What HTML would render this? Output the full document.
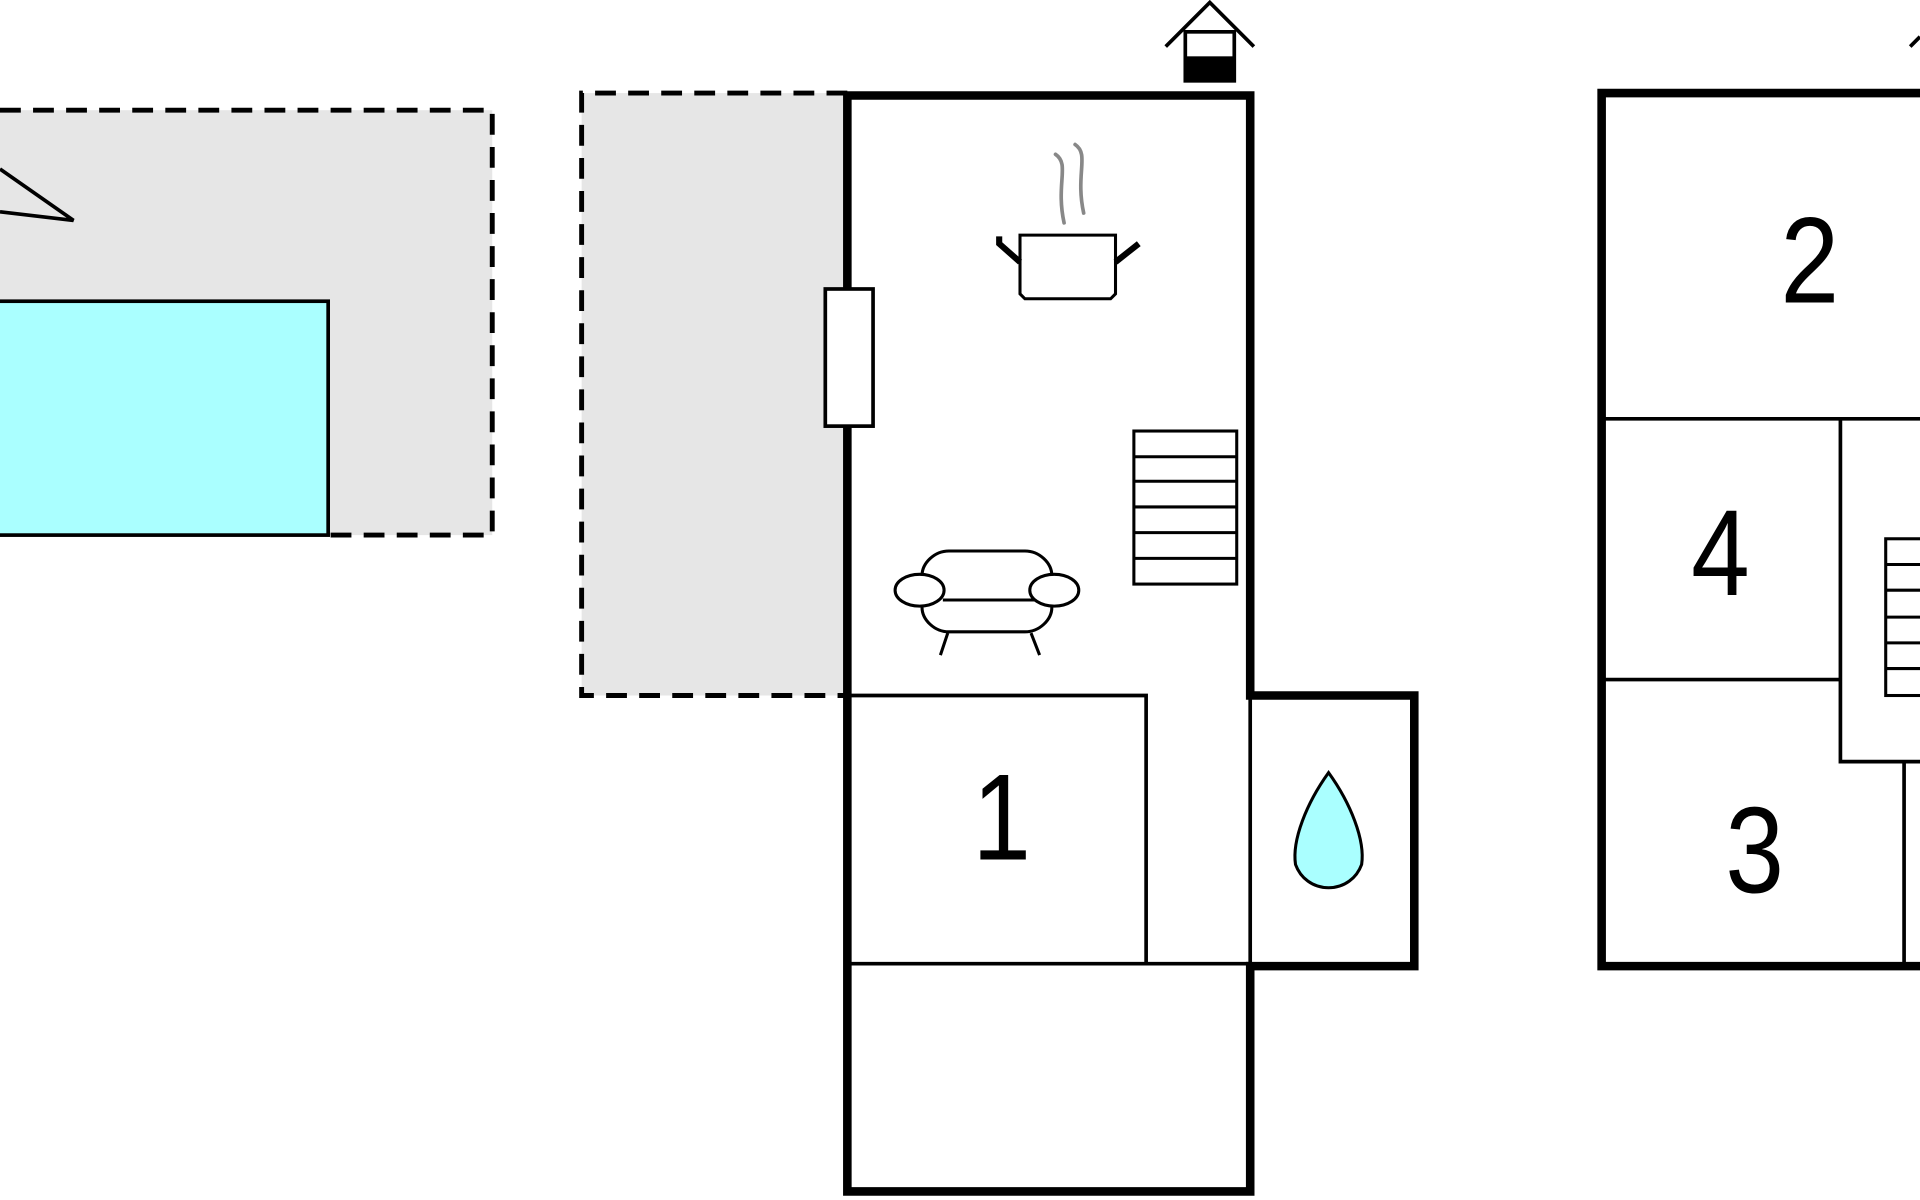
<!DOCTYPE html>
<html><head><meta charset="utf-8"><style>html,body{margin:0;padding:0;background:#fff;width:1920px;height:1200px;overflow:hidden}svg{display:block}</style></head>
<body>
<svg width="1920" height="1200" viewBox="0 0 1568 980" xmlns="http://www.w3.org/2000/svg" font-family="Liberation Sans, Arial, sans-serif">
<rect x="0" y="90" width="402" height="347" fill="#e6e6e6"/>
<path d="M0 90H402V437H268" fill="none" stroke="#000" stroke-width="4" stroke-dasharray="17,10"/>
<rect x="-5" y="246" width="273" height="191" fill="#aaffff" stroke="#000" stroke-width="3"/>
<path d="M0 138L60 180L0 173" fill="none" stroke="#000" stroke-width="3"/>
<rect x="475" y="76" width="217" height="492" fill="#e6e6e6"/>
<path d="M692 76H475V568H692" fill="none" stroke="#000" stroke-width="4" stroke-dasharray="17,10"/>
<path d="M1021 568V789M692 568H936V787M692 787H1021" fill="none" stroke="#000" stroke-width="3"/>
<path d="M692 78H1021V568H1155V789H1021V973H692Z" fill="none" stroke="#000" stroke-width="7"/>
<rect x="674" y="236" width="39" height="112" fill="#fff" stroke="#000" stroke-width="3"/>
<path d="M952 38L988 2L1024 38" fill="none" stroke="#000" stroke-width="3"/>
<rect x="968" y="26" width="40" height="40" fill="#fff" stroke="#000" stroke-width="3"/>
<rect x="968" y="46" width="40" height="20" fill="#000"/>
<path d="M862 126c12 8 0 24 7 56M878 118c12 8 0 24 7 56" fill="none" stroke="#888" stroke-width="3" stroke-linecap="round"/>
<path d="M833 192H911V240l-4 4H837l-4-4Z" fill="#fff" stroke="#000" stroke-width="2.5"/>
<path d="M833 214l-17-15v-6M911 214l19-15" fill="none" stroke="#000" stroke-width="5"/>
<g fill="#fff" stroke="#000" stroke-width="2.5">
<rect x="926" y="352" width="84" height="125"/>
<path d="M926 373H1010M926 393H1010M926 414H1010M926 435H1010M926 456H1010"/>
</g>
<g fill="#fff" stroke="#000" stroke-width="2.5">
<path d="M753 470c0-10 10-20 22-20h62c12 0 22 10 22 20v26c0 10-10 20-22 20H775c-12 0-22-10-22-20Z"/>
<path d="M770 490H845"/>
<ellipse cx="751" cy="482" rx="20" ry="13"/>
<ellipse cx="861" cy="482" rx="20" ry="13"/>
<path d="M774 517l-6 18M842 517l7 18"/>
</g>
<path d="M1085 631c-18 25-30 55-27 75 4 11 14 19 27 19s23-8 27-19c3-20-9-50-27-75Z" fill="#aaffff" stroke="#000" stroke-width="2.5"/>
<g font-size="100" text-anchor="middle">
<text transform="translate(818 702) scale(0.86 1)">1</text>
<text transform="translate(1478 247) scale(0.86 1)">2</text>
<text transform="translate(1405 486) scale(0.86 1)">4</text>
<text transform="translate(1433 729) scale(0.86 1)">3</text>
</g>
<path d="M1568 76H1308V789H1568" fill="none" stroke="#000" stroke-width="7"/>
<path d="M1310 342H1568M1503 342V622H1568M1310 555H1503M1555 622V789" fill="none" stroke="#000" stroke-width="3"/>
<g fill="#fff" stroke="#000" stroke-width="2.5">
<rect x="1540" y="440" width="40" height="128"/>
<path d="M1540 461H1568M1540 482H1568M1540 504H1568M1540 525H1568M1540 546H1568"/>
</g>
<path d="M1560 38L1568 30" stroke="#000" stroke-width="3"/>
</svg>
</body></html>
